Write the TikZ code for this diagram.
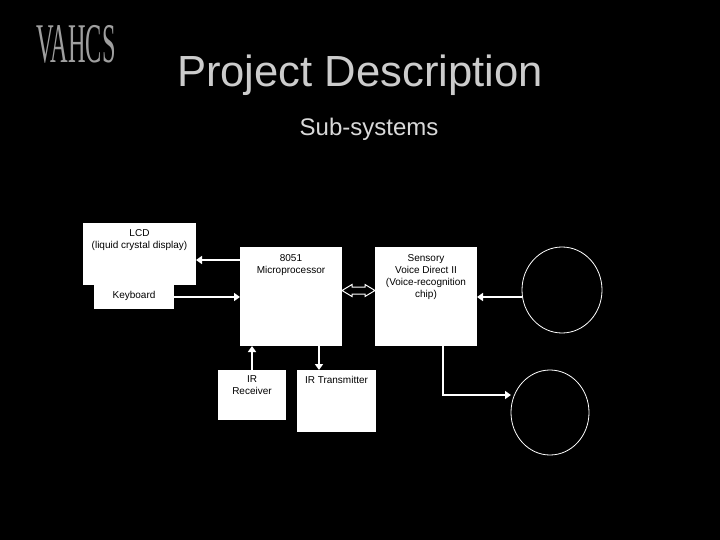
\documentclass[tikz,border=0pt]{standalone}
\usepackage{fontspec}
\usepackage{xcolor}
\usetikzlibrary{arrows.meta, shapes.geometric}
\setmainfont{Liberation Sans}
\newfontfamily\logofont{Liberation Serif}

% box text sits at the top of the box
\newcommand{\boxtext}[4]{\parbox[t][#2][t]{#1}{\centering\vspace*{#3}\fontsize{10}{12}\selectfont #4\par}}

\tikzset{
    box/.style={fill=white, text=black, anchor=north west, inner sep=0pt, outer sep=0pt},
    speaker/.style={ellipse, draw=white, fill=black, line width=0.8pt, inner sep=0pt, outer sep=0pt},
    conn/.style={white, line width=2pt, -{Triangle[length=6pt,width=8pt]}}
}

\begin{document}
\begin{tikzpicture}[x=1pt, y=-1pt]
    \useasboundingbox (0,0) rectangle (720,540);
    \fill[black] (0,0) rectangle (720,540);

    \node[text=gray!75, font=\logofont\fontsize{28}{28}\selectfont, xscale=0.87, yscale=2] (logo) at (76,44) {VAHCS};
    \node[text=white!80!black, font=\fontsize{43.6}{48}\selectfont] (title) at (360,75) {Project Description};
    \node[text=white!85!black, font=\fontsize{24}{28}\selectfont] (subtitle) at (369,129) {Sub-systems};

    \node[box] (lcd) at (83,223) {\boxtext{113pt}{62pt}{7pt}{LCD\\(liquid crystal display)}};
    \node[box] (keyboard) at (94,285) {\boxtext{80pt}{24pt}{6pt}{Keyboard}};
    \node[box] (micro) at (240,247) {\boxtext{102pt}{99pt}{8pt}{8051\\Microprocessor}};
    \node[box] (sensory) at (375,247) {\boxtext{102pt}{99pt}{8pt}{Sensory\\Voice Direct II\\(Voice-recognition\\chip)}};
    \node[box] (receiver) at (218,370) {\boxtext{68pt}{50pt}{6pt}{IR\\Receiver}};
    \node[box] (transmitter) at (297,370) {\boxtext{79pt}{62pt}{6pt}{IR Transmitter}};

    \node[speaker, minimum width=80pt, minimum height=86pt] (mic) at (562,290) {};
    \node[speaker, minimum width=78pt, minimum height=85pt] (spk) at (550,412.5) {};

    \draw[conn] ([yshift=-13pt]micro.north west) -- ([yshift=-37pt]lcd.north east);
    \draw[conn] ([yshift=-12pt]keyboard.north east) -- ([yshift=-50pt]micro.north west);
    \draw[conn] ([xshift=34pt]receiver.north west) -- ([xshift=12pt]micro.south west);
    \draw[conn] ([xshift=79pt]micro.south west) -- ([xshift=22pt]transmitter.north west);
    \draw[conn] ([yshift=-7pt]mic.west) -- ([yshift=-50pt]sensory.north east);
    \draw[conn] ([xshift=68pt]sensory.south west) |- ([yshift=17.5pt]spk.west);

    % hollow double arrow
    \coordinate (busl) at ([yshift=-43.5pt]micro.north east);
    \coordinate (busr) at ([yshift=-43.5pt]sensory.north west);
    \draw[white, line width=1pt, fill=black] (busl) -- ++(10,-6) -- ++(0,2.5) -- ++(13,0) -- ++(0,-2.5) -- (busr)
        -- ++(-10,6) -- ++(0,-2.5) -- ++(-13,0) -- ++(0,2.5) -- cycle;
\end{tikzpicture}
\end{document}
